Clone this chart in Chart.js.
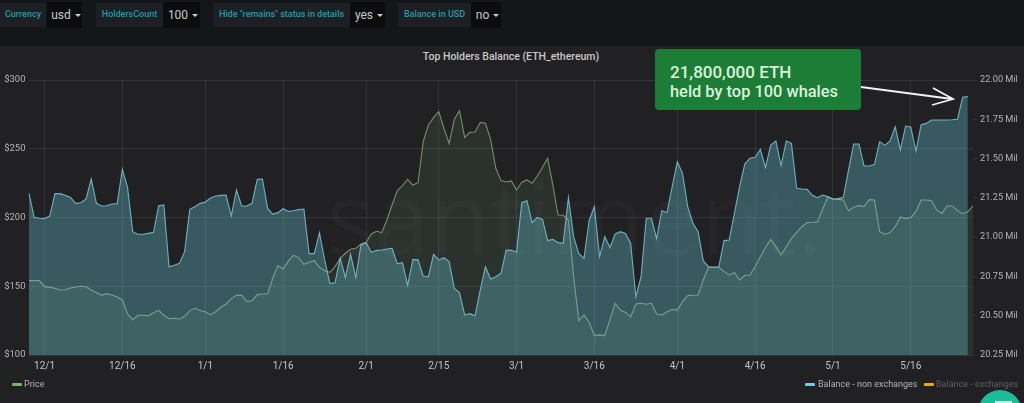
<!DOCTYPE html>
<html><head><meta charset="utf-8">
<script src="https://cdn.jsdelivr.net/npm/chart.js"></script>
<style>
html,body{margin:0;padding:0;background:#141619;overflow:hidden}
#page{position:relative;width:1024px;height:403px;overflow:hidden;font-family:Roboto,sans-serif;background:#141619;filter:blur(0.35px)}
#panel{position:absolute;left:0;top:46px;width:1024px;height:357px;background:#212124}
#wm{position:absolute;left:326px;top:148px;font:100px "Open Sans",sans-serif;color:rgba(255,255,255,.025);white-space:nowrap;letter-spacing:0}
canvas{position:absolute;left:0;top:0}
.lab,.val{position:absolute;top:3px;height:24px;line-height:22px;text-align:center;font-size:9px;white-space:nowrap}
.lab{background:#1c2024;color:#2f95a8;font-weight:500}
.val{background:#0b0c0e;color:#c9c9c9;font-size:12px;top:2px;height:26px;line-height:27px;padding-left:3px;box-sizing:border-box}
.val i{display:inline-block;width:0;height:0;border:3px solid transparent;border-top:3.5px solid #d0d0d0;border-bottom:0;margin-left:4px;vertical-align:2px}
#title{position:absolute;left:0;width:1022px;top:50px;text-align:center;font-size:10.5px;font-weight:500;color:#c8c8c8}
.leg{position:absolute;top:379px;font-size:9px;line-height:11px;color:#b4b4b4;white-space:nowrap}
.sw{position:absolute;top:383px;width:10px;height:3px;border-radius:1px}
#note{position:absolute;left:655px;top:49px;width:206px;height:61px;background:#1c7d37;border-radius:4px;color:#dcf2dc;font-size:17px;font-weight:500;line-height:20px;padding:13px 0 0 15px;box-sizing:border-box;white-space:nowrap}
#note b{font-weight:500;font-size:16.4px;display:block}
svg{position:absolute;left:0;top:0}
#fab{position:absolute;left:978px;top:390px;width:44px;height:44px;border-radius:50%;background:#1dbb97}
#fabi{position:absolute;left:995px;top:401px;width:17px;height:3px;background:#d8efe8}
</style></head><body>
<div id="page">
 <div id="panel"></div>
 <div id="wm">santiment.</div>
 <div class="lab" style="left:0;width:46px">Currency</div><div class="val" style="left:47px;width:35px">usd<i></i></div>
 <div class="lab" style="left:96px;width:67px">HoldersCount</div><div class="val" style="left:163px;width:37px">100<i></i></div>
 <div class="lab" style="left:213px;width:137px">Hide "remains" status in details</div><div class="val" style="left:350px;width:35px">yes<i></i></div>
 <div class="lab" style="left:398px;width:73px">Balance in USD</div><div class="val" style="left:471px;width:30px">no<i></i></div>
 <div id="title">Top Holders Balance (ETH_ethereum)</div>
 <canvas id="c" width="1024" height="403" style="width:1024px;height:403px"></canvas>
 <div class="sw" style="left:12px;background:#7eb26d"></div><div class="leg" style="left:24px">Price</div>
 <div class="sw" style="left:805px;background:#6ed0e0"></div><div class="leg" style="left:818px">Balance - non exchanges</div>
 <div class="sw" style="left:924px;background:#e5ac0e"></div><div class="leg" style="left:936px;color:#5f5f5f">Balance - exchanges</div>
 <div id="note">21,800,000 ETH<b>held by top 100 whales</b></div>
 <svg width="1024" height="403"><path d="M861 87L952 99M933 88L953 99L932 105" fill="none" stroke="#f2f2f2" stroke-width="1.8"/></svg>
 <div id="fab"></div><div id="fabi"></div>
</div>
<script>
const tickLabels=['12/1','12/16','1/1','1/16','2/1','2/15','3/1','3/16','4/1','4/16','5/1','5/16'];
const leftTicks=[100,150,200,250,300];
const rightTicks=[20.25,20.5,20.75,21,21.25,21.5,21.75,22];
const balanceNonExchanges=[21.279,21.126,21.120,21.118,21.135,21.277,21.277,21.266,21.253,21.215,21.219,21.243,21.370,21.215,21.198,21.200,21.211,21.213,21.432,21.317,21.035,21.018,21.018,21.024,21.031,21.200,21.205,20.812,20.821,20.833,20.908,21.177,21.194,21.215,21.224,21.249,21.262,21.266,21.268,21.135,21.300,21.198,21.198,21.215,21.368,21.370,21.183,21.147,21.156,21.181,21.164,21.168,21.175,21.179,20.895,20.895,21.028,20.855,20.706,20.710,20.865,20.744,20.891,20.744,20.950,20.965,20.903,20.916,20.918,20.925,20.929,20.831,20.838,20.695,20.857,20.857,20.753,20.748,20.891,20.855,20.869,20.844,20.674,20.647,20.505,20.513,20.500,20.664,20.812,20.734,20.748,20.770,20.918,20.916,20.905,21.219,21.232,21.092,21.126,21.113,20.978,20.986,20.965,20.961,21.253,21.003,20.897,20.865,21.109,21.194,20.876,21.003,20.935,21.020,21.035,21.024,20.961,20.621,20.748,21.120,21.120,20.992,21.168,21.156,21.321,21.480,21.406,21.194,21.088,21.035,20.850,20.812,20.808,20.812,20.978,20.982,21.152,21.321,21.465,21.502,21.508,21.559,21.444,21.586,21.612,21.455,21.612,21.597,21.311,21.306,21.304,21.268,21.251,21.268,21.258,21.243,21.245,21.253,21.427,21.593,21.593,21.453,21.453,21.463,21.608,21.584,21.612,21.703,21.555,21.707,21.701,21.548,21.716,21.724,21.745,21.745,21.745,21.745,21.747,21.750,21.890,21.894,null];
const price=[154.1,154.1,154.1,149.7,149.2,148.5,147.3,147.5,148.7,149.5,150.0,149.7,147.3,145.3,143.6,144.6,143.6,142.2,140.0,129.8,125.7,128.9,128.9,128.6,130.8,132.5,128.9,126.4,126.7,126.2,128.1,132.3,134.0,132.3,131.5,129.3,131.5,134.7,137.1,141.0,143.4,143.4,138.8,139.5,143.9,144.4,144.4,155.8,165.0,162.6,168.4,172.5,170.8,166.0,167.4,168.6,163.8,161.3,160.1,164.3,170.3,174.0,176.9,177.6,180.7,182.0,188.0,190.0,189.0,198.2,209.1,219.5,223.2,227.8,223.6,225.3,255.2,267.3,272.6,277.0,264.9,253.9,271.4,277.7,258.3,261.9,262.2,269.2,268.5,256.9,235.8,226.8,225.8,226.6,220.0,225.6,227.3,224.9,230.2,236.5,243.0,223.6,201.8,201.6,198.2,157.0,125.0,129.1,123.8,114.1,114.6,114.1,125.5,137.6,132.7,131.0,127.7,137.1,137.6,136.9,137.6,129.8,129.1,131.3,133.2,132.7,138.8,143.2,143.4,143.6,154.6,163.8,163.8,163.8,160.6,158.2,159.9,154.6,158.0,158.0,164.3,171.5,178.3,184.1,178.8,172.7,178.8,184.9,189.2,193.3,196.3,196.5,196.8,206.0,214.7,213.5,213.2,212.7,205.0,207.4,208.6,207.9,213.0,212.7,189.7,187.8,189.0,193.3,200.4,199.2,199.9,204.2,212.7,212.7,212.2,205.5,203.0,208.4,208.4,205.0,202.8,204.2,208.4];
const days=[];
for(let d=new Date(Date.UTC(2019,10,28));days.length<price.length;d=new Date(d.getTime()+864e5)){days.push((d.getUTCMonth()+1)+'/'+d.getUTCDate());}
const gridCol='rgba(255,255,255,0.085)';
new Chart(document.getElementById('c'),{
 type:'line',
 data:{labels:days,datasets:[
  {label:'Balance - non exchanges',data:balanceNonExchanges,yAxisID:'y2',borderColor:'rgba(130,205,222,0.8)',backgroundColor:'rgba(110,208,224,0.32)',borderWidth:1.1,pointRadius:0,fill:'start',tension:0,spanGaps:false},
  {label:'Price',data:price,yAxisID:'y',borderColor:'rgba(135,160,115,0.85)',backgroundColor:'rgba(126,178,109,0.11)',borderWidth:1.1,pointRadius:0,fill:'start',tension:0}
 ]},
 options:{
  responsive:false,animation:false,
  layout:{padding:{top:80,bottom:28,left:0,right:0}},
  plugins:{legend:{display:false},title:{display:false},tooltip:{enabled:false}},
  scales:{
   x:{type:'category',offset:false,
    grid:{drawTicks:false,color:c=>c.tick&&c.tick.label?gridCol:'transparent',lineWidth:1},
    border:{display:false},
    afterFit(s){s.height=20;},
    ticks:{autoSkip:false,maxRotation:0,minRotation:0,padding:5,color:'#c4c4c4',font:{family:'Roboto',size:10},
     callback(v){const l=this.getLabelForValue(v);return tickLabels.includes(l)?l:null;}}},
   y:{type:'linear',position:'left',min:100,max:300,
    afterBuildTicks(s){s.ticks=leftTicks.map(v=>({value:v}));},
    afterFit(s){s.width=29;},
    grid:{drawTicks:false,color:gridCol},border:{display:false},
    ticks:{padding:3.5,color:'#b4b4b4',font:{family:'Roboto',size:9.5},callback:v=>'$'+v}},
   y2:{type:'linear',position:'right',min:20.25,max:22,
    afterBuildTicks(s){s.ticks=rightTicks.map(v=>({value:v}));},
    afterFit(s){s.width=51;},
    grid:{drawOnChartArea:false,drawTicks:true,tickLength:4,color:gridCol},border:{display:false},
    ticks:{padding:3,color:'#b4b4b4',font:{family:'Roboto',size:9.2},callback:v=>v.toFixed(2)+' Mil'}}
  }
 }
});
</script>
</body></html>
